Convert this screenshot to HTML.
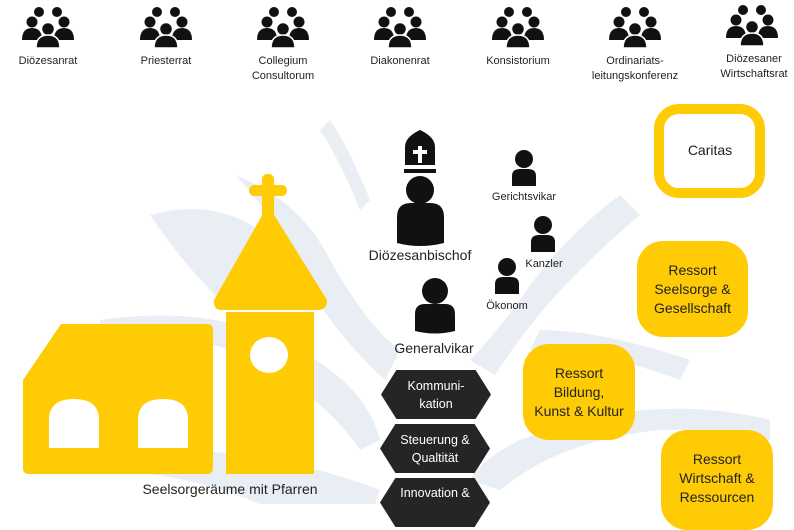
<!DOCTYPE html>
<html><head><meta charset="utf-8"><style>
html,body{margin:0;padding:0;background:#fff;}
body{width:794px;height:504px;overflow:hidden;position:relative;font-family:"Liberation Sans","DejaVu Sans",sans-serif;}
.t{position:absolute;text-align:center;color:#222;line-height:15px;font-size:11px;transform:translateX(-50%);white-space:nowrap;}
.box{position:absolute;background:#FFCB05;border-radius:26px;display:flex;align-items:center;justify-content:center;text-align:center;font-size:14px;line-height:19px;color:#222;}
.hex{position:absolute;width:110px;height:49px;background:#252525;clip-path:polygon(14% 0,86% 0,100% 50%,86% 100%,14% 100%,0 50%);color:#fff;font-size:12.5px;line-height:18px;display:flex;align-items:center;justify-content:center;text-align:center;}
</style></head><body>
<svg width="794" height="504" style="position:absolute;left:0;top:0">
<defs>
<g id="grp">
<circle cx="-9" cy="4" r="5"/><circle cx="9" cy="4" r="5"/>
<circle cx="-16" cy="14" r="5.5"/><circle cx="16" cy="14" r="5.5"/>
<path d="M-26 32 Q-26 20 -16 20 Q-6 20 -6 32Z"/><path d="M26 32 Q26 20 16 20 Q6 20 6 32Z"/>
<circle cx="0" cy="21" r="6.5" stroke="#fff" stroke-width="1.5"/>
<path d="M-12 40 Q-12 27 0 27 Q12 27 12 40Z" stroke="#fff" stroke-width="1.5"/>
</g>
<g id="per">
<circle cx="0" cy="9" r="9"/>
<path d="M-12 36 L-12 26 Q-12 19 -4 19 L4 19 Q12 19 12 26 L12 36Z"/>
</g>
</defs>
<g fill="#e9edf4">
<path d="M150 215 Q240 190 300 270 Q300 330 220 300 Q180 260 150 215Z"/>
<path d="M235 175 Q300 200 330 260 Q370 330 400 350 L385 380 Q330 330 300 270 Q270 210 235 175Z"/>
<path d="M100 320 Q240 300 330 370 Q370 400 380 440 L360 450 Q320 390 230 350 Q170 330 100 340Z"/>
<path d="M90 450 Q250 440 380 490 L375 504 L260 504 Q180 470 90 470Z"/>
<path d="M620 195 Q560 240 520 300 Q490 340 470 360 L495 375 Q530 320 580 270 Q610 240 640 215Z"/>
<path d="M690 360 Q600 330 540 330 L530 350 Q600 350 680 380Z"/>
<path d="M770 420 Q650 390 520 440 Q480 460 470 480 L500 490 Q560 440 660 430 Q720 428 770 440Z"/>
<path d="M330 120 Q350 150 370 200 L360 210 Q340 160 320 130Z"/>
</g>
<g fill="#111">
<use href="#grp" x="48" y="8"/><use href="#grp" x="166" y="8"/><use href="#grp" x="283" y="8"/>
<use href="#grp" x="400" y="8"/><use href="#grp" x="518" y="8"/><use href="#grp" x="635" y="8"/><use href="#grp" x="752" y="6"/>
</g>
<!-- church -->
<g fill="#FFCB05">
<path d="M61 324 L207 324 Q213 324 213 330 L213 468 Q213 474 207 474 L29 474 Q23 474 23 468 L23 380Z"/>
<path d="M226 312 L314 312 L314 474 L226 474Z"/>
<path d="M268 205 L327 300 Q327 310 318 310 L222 310 Q213 310 214 300Z"/>
<rect x="262" y="174" width="12" height="48" rx="5"/>
<rect x="249" y="185" width="38" height="11" rx="5"/>
</g>
<g fill="#fff">
<path d="M49 448 L49 420 Q49 399 74 399 Q99 399 99 420 L99 448Z"/>
<path d="M138 448 L138 420 Q138 399 163 399 Q188 399 188 420 L188 448Z"/>
<ellipse cx="269" cy="355" rx="19" ry="18"/>
</g>
<!-- bishop -->
<g fill="#111">
<path d="M405 165 L405 147 Q405 137 420 130 Q435 137 435 147 L435 165Z"/>
<rect x="404" y="169" width="32" height="4"/>
<circle cx="420" cy="190" r="14"/>
<path d="M397 243 L397 217 Q397 203 411 203 L430 203 Q444 203 444 217 L444 243 Q420 249 397 243Z"/>
<!-- generalvikar -->
<circle cx="435" cy="291" r="13"/>
<path d="M415 331 L415 314 Q415 304 425 304 L445 304 Q455 304 455 314 L455 331 Q435 336 415 331Z"/>
</g>
<rect x="418" y="146" width="4" height="17" fill="#fff"/><rect x="413" y="150" width="14" height="4" fill="#fff"/>
<g fill="#111">
<use href="#per" x="524" y="150"/><use href="#per" x="543" y="216"/><use href="#per" x="507" y="258"/>
</g>
<rect x="659" y="109" width="101" height="84" rx="20" fill="none" stroke="#FFCB05" stroke-width="10"/>
</svg>
<div class="t" style="left:48px;top:54px">Diözesanrat</div>
<div class="t" style="left:166px;top:54px">Priesterrat</div>
<div class="t" style="left:283px;top:54px">Collegium<br>Consultorum</div>
<div class="t" style="left:400px;top:54px">Diakonenrat</div>
<div class="t" style="left:518px;top:54px">Konsistorium</div>
<div class="t" style="left:635px;top:54px">Ordinariats-<br>leitungskonferenz</div>
<div class="t" style="left:754px;top:52px">Diözesaner<br>Wirtschaftsrat</div>
<div class="t" style="left:420px;top:246px;font-size:14px;line-height:18px">Diözesanbischof</div>
<div class="t" style="left:434px;top:339px;font-size:14px;line-height:18px">Generalvikar</div>
<div class="t" style="left:524px;top:190px">Gerichtsvikar</div>
<div class="t" style="left:544px;top:257px">Kanzler</div>
<div class="t" style="left:507px;top:299px">Ökonom</div>
<div class="t" style="left:230px;top:480px;font-size:14px;line-height:18px">Seelsorgeräume mit Pfarren</div>
<div class="t" style="left:710px;top:143px;font-size:14px">Caritas</div>
<div class="box" style="left:637px;top:241px;width:111px;height:96px">Ressort<br>Seelsorge &amp;<br>Gesellschaft</div>
<div class="box" style="left:523px;top:344px;width:112px;height:96px">Ressort<br>Bildung,<br>Kunst &amp; Kultur</div>
<div class="box" style="left:661px;top:430px;width:112px;height:100px;align-items:flex-start;padding-top:0"><div style="margin-top:20px">Ressort<br>Wirtschaft &amp;<br>Ressourcen</div></div>
<div class="hex" style="left:381px;top:370px">Kommuni-<br>kation</div>
<div class="hex" style="left:380px;top:424px">Steuerung &amp;<br>Qualtität</div>
<div class="hex" style="left:380px;top:478px;align-items:flex-start"><div style="margin-top:6px">Innovation &amp;</div></div>
</body></html>
